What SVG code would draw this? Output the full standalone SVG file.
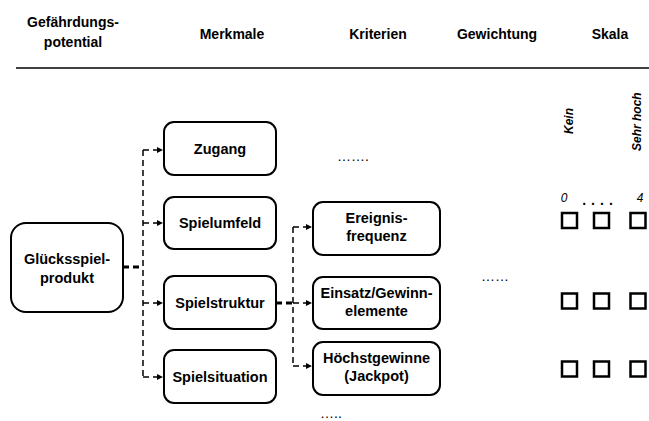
<svg xmlns="http://www.w3.org/2000/svg" width="649" height="421" viewBox="0 0 649 421">
<defs>
<marker id="arr" viewBox="0 0 6 6" refX="6" refY="3" markerWidth="6" markerHeight="6" markerUnits="userSpaceOnUse" orient="auto">
<path d="M0,0 L6,3 L0,6 z" fill="#000"/>
</marker>
<style>
text{font-family:"Liberation Sans",Arial,sans-serif;fill:#000}
.h{font-size:14px;font-weight:bold;text-anchor:middle}
.n{font-size:14.5px;font-weight:bold;text-anchor:middle}
.box{fill:#fff;stroke:#000;stroke-width:2}
.d{fill:none;stroke:#000;stroke-width:1.5;stroke-dasharray:6 4}
.dt{fill:none;stroke:#000;stroke-width:3;stroke-dasharray:6 4}
.cb{fill:none;stroke:#000;stroke-width:2.5}
.dots{font-size:14px;text-anchor:middle}
.sc{font-size:12px;font-weight:bold;font-style:italic}
.num{font-size:12px;font-style:italic;text-anchor:middle}
</style>
</defs>
<rect width="649" height="421" fill="#fff"/>
<g id="header">
<text class="h" x="73" y="27">Gefährdungs-</text>
<text class="h" x="73" y="47">potential</text>
<text class="h" x="232" y="39">Merkmale</text>
<text class="h" x="378" y="39">Kriterien</text>
<text class="h" x="497" y="39">Gewichtung</text>
<text class="h" x="610" y="39">Skala</text>
<line x1="16" y1="68" x2="649" y2="68" stroke="#000" stroke-width="1.5"/>
</g>
<g id="connectors">
<path class="dt" d="M123,267 H143"/>
<path class="d" d="M143,150 V377"/>
<path class="d" d="M143,150 H163" marker-end="url(#arr)"/>
<path class="d" d="M143,223 H163" marker-end="url(#arr)"/>
<path class="d" d="M143,303 H163" marker-end="url(#arr)"/>
<path class="d" d="M143,377 H163" marker-end="url(#arr)"/>
<path class="dt" d="M276,303 H293"/>
<path class="d" d="M293,227 V366"/>
<path class="d" d="M293,227 H312" marker-end="url(#arr)"/>
<path class="d" d="M293,303 H312" marker-end="url(#arr)"/>
<path class="d" d="M293,366 H312" marker-end="url(#arr)"/>
</g>
<g id="gluecksspielprodukt">
<rect class="box" x="11" y="223" width="112" height="89" rx="15"/>
<text class="n" x="67" y="264">Glücksspiel-</text>
<text class="n" x="67" y="283">produkt</text>
</g>
<g id="zugang">
<rect class="box" x="164" y="122" width="112" height="53" rx="10"/>
<text class="n" x="220" y="153.5">Zugang</text>
</g>
<g id="spielumfeld">
<rect class="box" x="164" y="197" width="112" height="52" rx="10"/>
<text class="n" x="220" y="228">Spielumfeld</text>
</g>
<g id="spielstruktur">
<rect class="box" x="164" y="276" width="112" height="53" rx="10"/>
<text class="n" x="220" y="307.5">Spielstruktur</text>
</g>
<g id="spielsituation">
<rect class="box" x="164" y="350" width="112" height="53" rx="10"/>
<text class="n" x="220" y="381.5">Spielsituation</text>
</g>
<g id="ereignisfrequenz">
<rect class="box" x="313" y="202" width="127" height="53" rx="10"/>
<text class="n" x="376.5" y="223">Ereignis-</text>
<text class="n" x="376.5" y="241">frequenz</text>
</g>
<g id="einsatz">
<rect class="box" x="313" y="277" width="127" height="52" rx="10"/>
<text class="n" x="376.5" y="297.5">Einsatz/Gewinn-</text>
<text class="n" x="376.5" y="315.5">elemente</text>
</g>
<g id="hoechstgewinne">
<rect class="box" x="313" y="342" width="127" height="53" rx="10"/>
<text class="n" x="376.5" y="363">Höchstgewinne</text>
<text class="n" x="376.5" y="381">(Jackpot)</text>
</g>
<g id="ellipses">
<text class="dots" x="353" y="161">…….</text>
<text class="dots" x="495" y="281">……</text>
<text class="dots" x="331" y="418">…..</text>
</g>
<g id="skala">
<text class="sc" transform="translate(573,134) rotate(-90)">Kein</text>
<text class="sc" transform="translate(641,151) rotate(-90)">Sehr hoch</text>
<text class="num" x="564" y="202">0</text>
<text class="num" x="640" y="202">4</text>
<text x="600" y="205" style="font-size:14px;font-weight:bold;text-anchor:middle;letter-spacing:5px">....</text>
<rect class="cb" x="562" y="213" width="15" height="15"/>
<rect class="cb" x="594" y="213" width="15" height="15"/>
<rect class="cb" x="630.5" y="213" width="15" height="15"/>
<rect class="cb" x="562" y="293.5" width="15" height="15"/>
<rect class="cb" x="594" y="293.5" width="15" height="15"/>
<rect class="cb" x="630.5" y="293.5" width="15" height="15"/>
<rect class="cb" x="562" y="361.5" width="15" height="15"/>
<rect class="cb" x="594" y="361.5" width="15" height="15"/>
<rect class="cb" x="630.5" y="361.5" width="15" height="15"/>
</g>
</svg>
